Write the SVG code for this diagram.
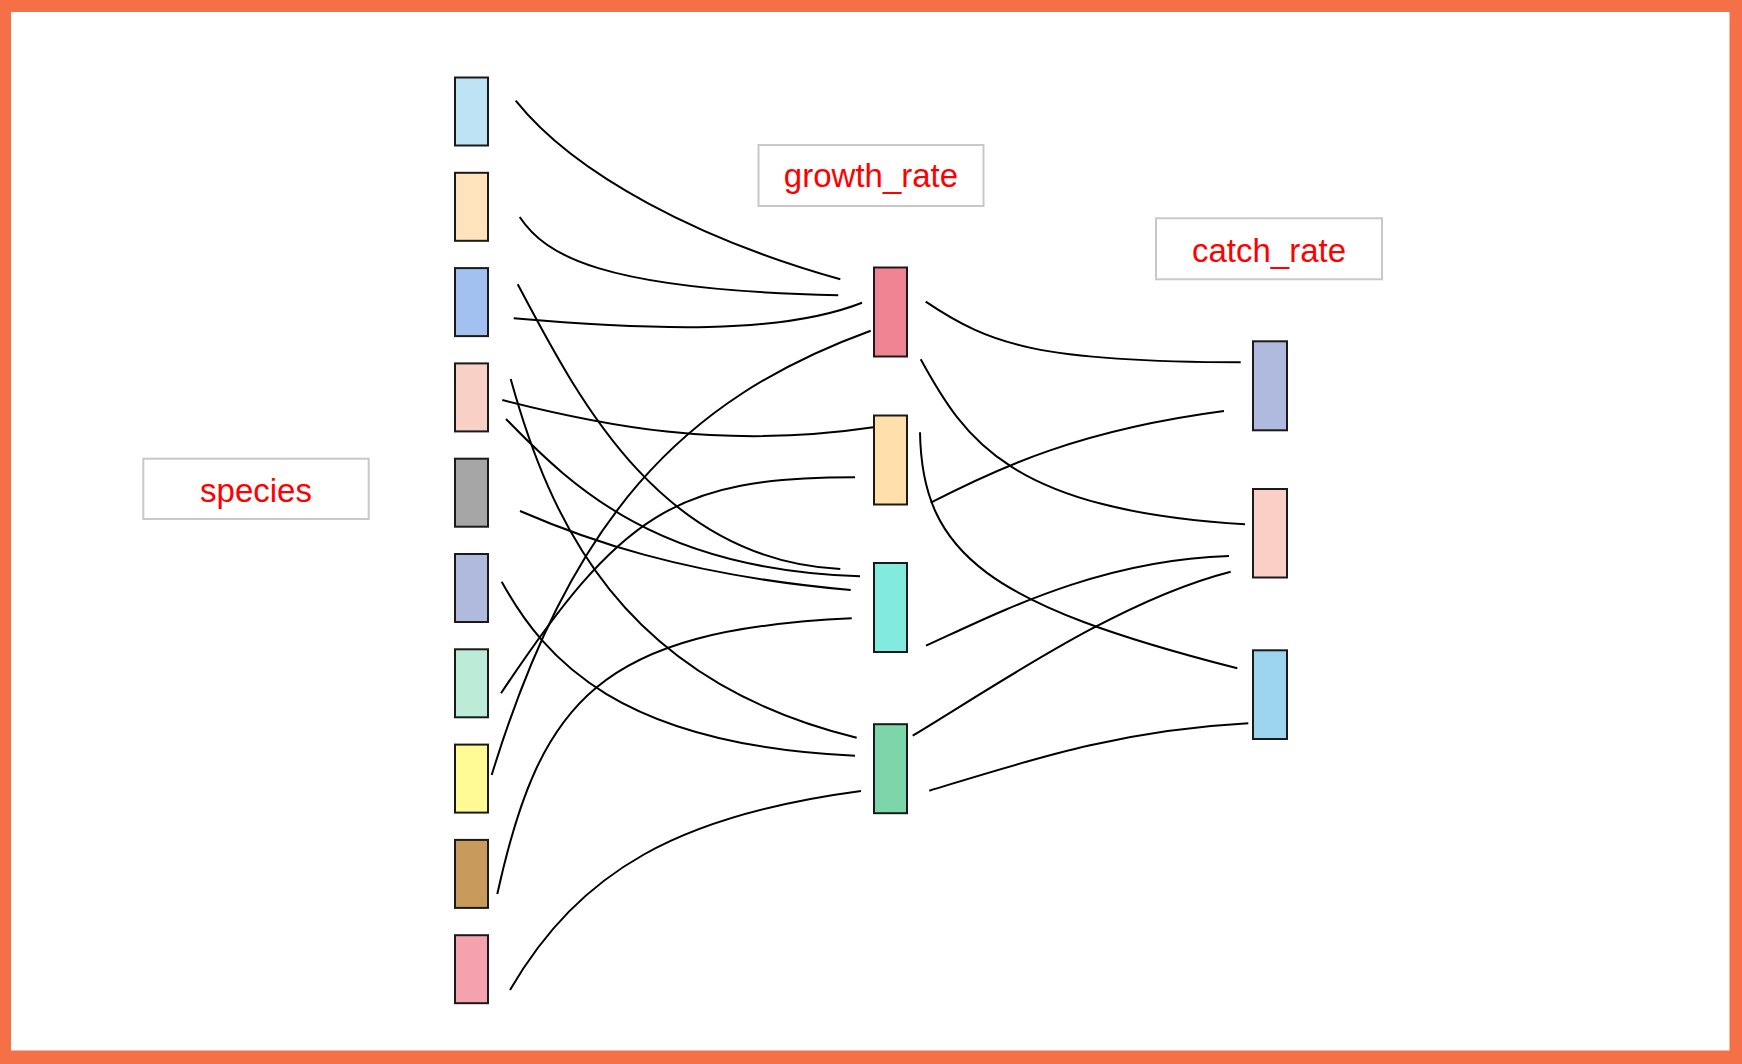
<svg xmlns="http://www.w3.org/2000/svg" width="1742" height="1064" viewBox="0 0 1742 1064">
<style>
.node{stroke:#1a1a1a;stroke-width:2}
.lab{fill:#fff;stroke:#c8c8c8;stroke-width:2}
.txt{font-family:"Liberation Sans",Arial,sans-serif;font-size:33px;fill:#ff0000;text-anchor:middle}
.edge{fill:none;stroke:#000;stroke-width:2}
</style>
<rect x="0" y="0" width="1742" height="1064" fill="#F56F47"/>
<rect x="11" y="12" width="1718.5" height="1038.5" fill="#ffffff"/>
<g id="label-species"><rect class="lab" x="143.3" y="458.7" width="225.4" height="60.3"/><text class="txt" x="256" y="501.5">species</text></g>
<g id="label-growth_rate"><rect class="lab" x="758.5" y="145" width="225" height="61"/><text class="txt" x="871" y="187">growth_rate</text></g>
<g id="label-catch_rate"><rect class="lab" x="1156" y="218.3" width="226" height="61"/><text class="txt" x="1269" y="261.5">catch_rate</text></g>
<g id="connectors">
<path class="edge" d="M515.7,100.7 C575,175 700,240 840.3,279.3"/>
<path class="edge" d="M519.7,217 C545,255 600,290 838.3,295.3"/>
<path class="edge" d="M513.7,318.3 C650,330 780,335 862,302.7"/>
<path class="edge" d="M517.7,284.3 C578,398 660,560 840.3,569"/>
<path class="edge" d="M502.3,400 C600,425 720,450 873.3,427.3"/>
<path class="edge" d="M510.7,379 C550,520 620,680 856.7,737.7"/>
<path class="edge" d="M506,419 C575,490 660,570 860,576.3"/>
<path class="edge" d="M520,511 C580,537 680,575 850.7,590"/>
<path class="edge" d="M501.7,581.7 C545,660 620,745 855,755.7"/>
<path class="edge" d="M491.7,775 C570,520 680,400 870.7,330.7"/>
<path class="edge" d="M501,693.3 C621,513.3 675,477.3 855,477.3"/>
<path class="edge" d="M497.3,894 C540,700 600,630 851.7,618.3"/>
<path class="edge" d="M510,990 C580,870 680,815 861,791"/>
<path class="edge" d="M925.7,301.7 C990,345 1040,362 1240.7,362.3"/>
<path class="edge" d="M920.7,359.3 C965,440 1010,510 1245,524.3"/>
<path class="edge" d="M930.7,502.7 C1000,467 1080,430 1224,411"/>
<path class="edge" d="M920,432.3 C922,555 990,605 1237.3,668.3"/>
<path class="edge" d="M926,645.7 C1000,612 1100,560 1229,556"/>
<path class="edge" d="M912.7,735.7 C1000,683 1120,600 1230.7,571.7"/>
<path class="edge" d="M929.3,790.7 C1030,760 1120,730 1248.3,723.3"/>
</g>
<g id="species-1"><rect class="node" x="455" y="77.5" width="33" height="68" fill="#BDE3F5"/></g>
<g id="species-2"><rect class="node" x="455" y="172.8" width="33" height="68" fill="#FFE3BD"/></g>
<g id="species-3"><rect class="node" x="455" y="268.1" width="33" height="68" fill="#A3C1F0"/></g>
<g id="species-4"><rect class="node" x="455" y="363.4" width="33" height="68" fill="#F9D0C6"/></g>
<g id="species-5"><rect class="node" x="455" y="458.7" width="33" height="68" fill="#A6A6A6"/></g>
<g id="species-6"><rect class="node" x="455" y="554" width="33" height="68" fill="#AFBADD"/></g>
<g id="species-7"><rect class="node" x="455" y="649.3" width="33" height="68" fill="#BCEBD8"/></g>
<g id="species-8"><rect class="node" x="455" y="744.6" width="33" height="68" fill="#FFFA94"/></g>
<g id="species-9"><rect class="node" x="455" y="839.9" width="33" height="68" fill="#C89B5C"/></g>
<g id="species-10"><rect class="node" x="455" y="935.2" width="33" height="68" fill="#F4A2AD"/></g>
<g id="growth-1"><rect class="node" x="874" y="267.5" width="33" height="89" fill="#F08492"/></g>
<g id="growth-2"><rect class="node" x="874" y="415.5" width="33" height="89" fill="#FFDFAA"/></g>
<g id="growth-3"><rect class="node" x="874" y="563" width="33" height="89" fill="#83EAE0"/></g>
<g id="growth-4"><rect class="node" x="874" y="724.2" width="33" height="89" fill="#7DD5AA"/></g>
<g id="catch-1"><rect class="node" x="1253" y="341.3" width="34" height="89" fill="#B0BADE"/></g>
<g id="catch-2"><rect class="node" x="1253" y="489" width="34" height="88.5" fill="#FACFC6"/></g>
<g id="catch-3"><rect class="node" x="1253" y="650.3" width="34" height="88.7" fill="#9DD4EE"/></g>
</svg>
